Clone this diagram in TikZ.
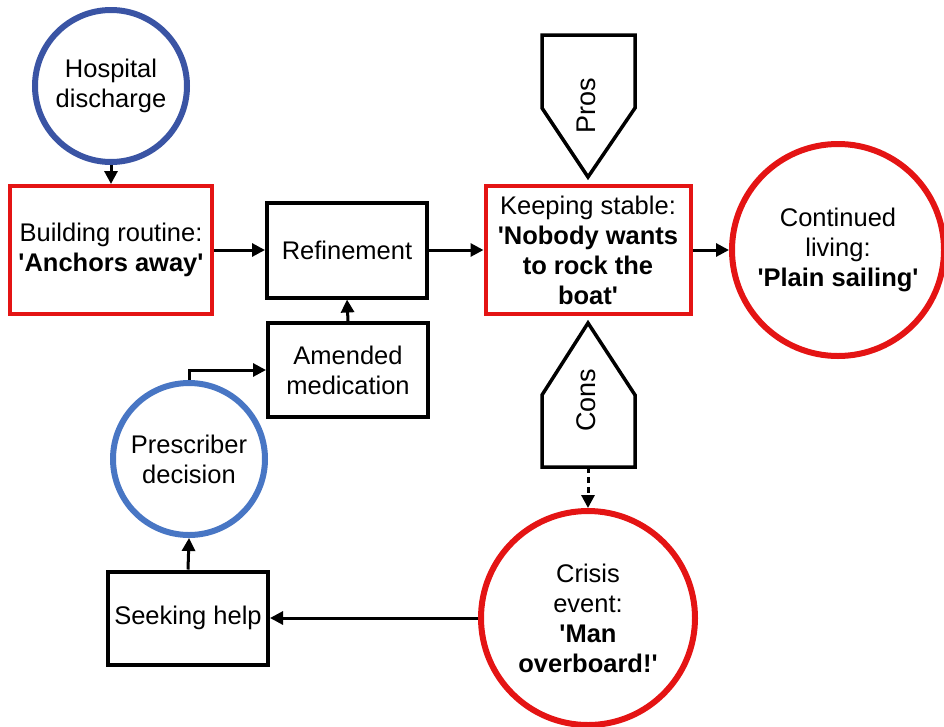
\documentclass[tikz,border=0pt]{standalone}
\usepackage{fontspec}
\setmainfont{Liberation Sans}[Ligatures=TeXOff]
\usetikzlibrary{arrows.meta}
\definecolor{myred}{RGB}{228,20,20}
\definecolor{darkblue}{RGB}{58,84,164}
\definecolor{lightblue}{RGB}{72,118,196}
\begin{document}
\begin{tikzpicture}[x=1pt,y=-1pt,
  font=\fontsize{25.5}{30}\selectfont,
  redbox/.style={draw=myred,line width=4pt,rectangle,align=center,inner sep=0pt},
  blackbox/.style={draw=black,line width=4pt,rectangle,align=center,inner sep=0pt},
  redcirc/.style={draw=myred,line width=6pt,circle,align=center,inner sep=0pt},
  bluecirc/.style={line width=6pt,circle,align=center,inner sep=0pt},
  flow/.style={line width=3pt,-{Triangle[length=13pt,width=13pt]}},
  penta/.style={draw=black,line width=3.5pt,line join=miter}
]
\useasboundingbox (0,0) rectangle (944,726);

% nodes
\node[bluecirc,draw=darkblue,minimum size=152pt] (hosp) at (111,86) {Hospital\\discharge};
\node[redbox,minimum width=202pt,minimum height=128pt] (build) at (111,250) {Building routine:\\\textbf{'Anchors away'}};
\node[blackbox,minimum width=160pt,minimum height=95pt] (ref) at (347,250) {Refinement};
\node[blackbox,minimum width=160pt,minimum height=94pt] (amend) at (348,370) {Amended\\medication};
\node[bluecirc,draw=lightblue,minimum size=152pt] (presc) at (189,459) {Prescriber\\decision};
\node[blackbox,minimum width=160pt,minimum height=93pt] (seek) at (188,618) {Seeking help};
\node[redbox,minimum width=205pt,minimum height=128pt] (keep) at (588,250) {Keeping stable:\\\textbf{'Nobody wants}\\\textbf{to rock the}\\\textbf{boat'}};
\node[redcirc,minimum size=212pt] (cont) at (838,250) {Continued\\living:\\\textbf{'Plain sailing'}};
\node[redcirc,minimum size=214pt] (crisis) at (588,618) {Crisis\\event:\\\textbf{'Man}\\\textbf{overboard!'}};

% pros / cons pentagons
\draw[penta] (542,35) -- (635,35) -- (635,108) -- (588,177) -- (542,108) -- cycle;
\node[rotate=90,font=\fontsize{27}{30}\selectfont] (pros) at (586,106) {Pros};
\draw[penta] (588,323) -- (635,395) -- (635,467) -- (542,467) -- (542,395) -- cycle;
\node[rotate=90,font=\fontsize{27}{30}\selectfont] (cons) at (586,400) {Cons};
\coordinate (consb) at (588,467);

% connectors
\draw[flow] (hosp.south) -- (build.north);
\draw[flow] (build.east) -- (ref.west);
\draw[flow] (ref.east) -- (keep.west);
\draw[flow] (keep.east) -- (cont.west);
\draw[flow] (amend.north) -- (ref.south);
\draw[flow] (presc.north) |- (amend.west);
\draw[flow] (seek.north) -- (presc.south);
\draw[flow] (crisis.west) -- (seek.east);
\draw[flow,dash pattern=on 6pt off 4pt] (consb) -- (crisis.north);
\end{tikzpicture}
\end{document}
